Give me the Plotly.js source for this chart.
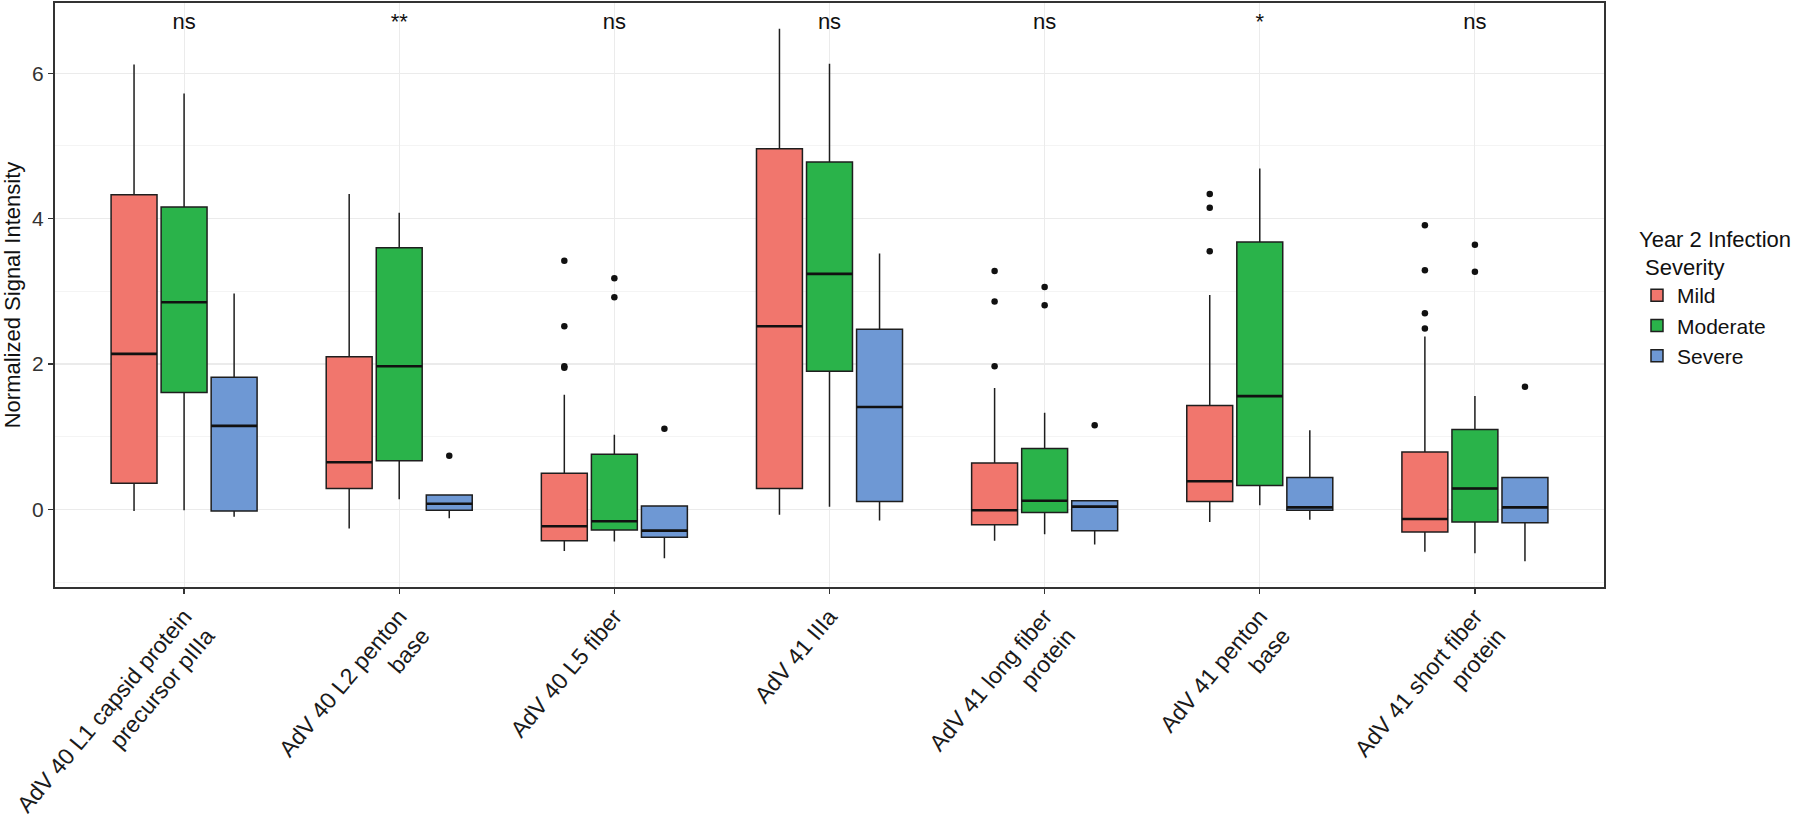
<!DOCTYPE html>
<html>
<head>
<meta charset="utf-8">
<script src="https://cdn.plot.ly/plotly-3.0.1.min.js"></script>
<style>html,body{margin:0;padding:0;background:#fff;}#chart{width:1800px;height:821px;}</style>
</head>
<body>
<div id="chart"></div>
<script>
// ---- categories & labels ----
const categories = [
  "AdV 40 L1 capsid protein<br>precursor pIIIa",
  "AdV 40 L2 penton<br>base",
  "AdV 40 L5 fiber",
  "AdV 41 IIIa",
  "AdV 41 long fiber<br>protein",
  "AdV 41 penton<br>base",
  "AdV 41 short fiber<br>protein"
];
const groups = ["Mild", "Moderate", "Severe"];
const sigLabels = ["ns", "**", "ns", "ns", "ns", "*", "ns"];
const sigY = 6.69;

// ---- Mild ----
const mildUpper  = [6.12, 4.34, 1.58, 6.61, 1.67, 2.95, 2.38];
const mildQ3     = [4.33, 2.10, 0.50, 4.96, 0.64, 1.43, 0.79];
const mildMedian = [2.14, 0.65, -0.23, 2.52, -0.01, 0.39, -0.13];
const mildQ1     = [0.36, 0.29, -0.43, 0.29, -0.21, 0.11, -0.31];
const mildLower  = [-0.02, -0.26, -0.57, -0.07, -0.43, -0.17, -0.58];
const mildOutliers = [[], [], [3.42, 2.52, 1.97, 1.95], [], [3.28, 2.86, 1.97], [4.34, 4.15, 3.55], [3.91, 3.29, 2.70, 2.49]];

// ---- Moderate ----
const modUpper  = [5.72, 4.08, 1.03, 6.13, 1.33, 4.69, 1.56];
const modQ3     = [4.16, 3.60, 0.76, 4.78, 0.84, 3.68, 1.10];
const modMedian = [2.85, 1.97, -0.16, 3.24, 0.12, 1.56, 0.29];
const modQ1     = [1.61, 0.67, -0.28, 1.90, -0.04, 0.33, -0.17];
const modLower  = [-0.01, 0.14, -0.44, 0.04, -0.34, 0.06, -0.60];
const modOutliers = [[], [], [3.18, 2.92], [], [3.06, 2.81], [], [3.64, 3.27]];

// ---- Severe ----
const sevUpper  = [2.97, 0.20, 0.05, 3.52, 0.12, 1.09, 0.44];
const sevQ3     = [1.82, 0.20, 0.05, 2.48, 0.12, 0.44, 0.44];
const sevMedian = [1.15, 0.08, -0.29, 1.41, 0.04, 0.03, 0.03];
const sevQ1     = [-0.02, -0.01, -0.38, 0.11, -0.29, -0.01, -0.18];
const sevLower  = [-0.10, -0.12, -0.67, -0.15, -0.48, -0.14, -0.71];
const sevOutliers = [[], [0.74], [1.11], [], [1.16], [], [1.69]];

// ---- styling ----
const colors = ["#F1766D", "#2AB34A", "#6E98D4"];
const FONT = "Liberation Sans, Arial, Helvetica, sans-serif";
const DODGE = 0.2326;
const BOXW = 0.2135;

const series = [
  {name: groups[0], upper: mildUpper, q3: mildQ3, median: mildMedian, q1: mildQ1, lower: mildLower, out: mildOutliers},
  {name: groups[1], upper: modUpper,  q3: modQ3,  median: modMedian,  q1: modQ1,  lower: modLower,  out: modOutliers},
  {name: groups[2], upper: sevUpper,  q3: sevQ3,  median: sevMedian,  q1: sevQ1,  lower: sevLower,  out: sevOutliers}
];

const pos = categories.map((_, i) => i + 1);
const traces = [];
series.forEach((s, g) => {
  const off = (g - 1) * DODGE;
  const xs = pos.map(p => p + off);
  traces.push({
    type: "box", name: s.name, x: xs,
    q1: s.q1, median: s.median, q3: s.q3,
    lowerfence: s.lower, upperfence: s.upper,
    width: BOXW, whiskerwidth: 0, boxpoints: false,
    fillcolor: colors[g], line: {color: "#1e1e1e", width: 1.5},
    hoverinfo: "skip", showlegend: true
  });
});
// thicker median lines
series.forEach((s, g) => {
  const off = (g - 1) * DODGE;
  const mx = [], my = [];
  pos.forEach((p, i) => {
    mx.push(p + off - BOXW / 2, p + off + BOXW / 2, null);
    my.push(s.median[i], s.median[i], null);
  });
  traces.push({type: "scatter", mode: "lines", x: mx, y: my,
    line: {color: "#111", width: 2.6}, showlegend: false, hoverinfo: "skip"});
});
// outliers
series.forEach((s, g) => {
  const off = (g - 1) * DODGE;
  const ox = [], oy = [];
  s.out.forEach((vals, i) => vals.forEach(v => { ox.push(pos[i] + off); oy.push(v); }));
  traces.push({type: "scatter", mode: "markers", x: ox, y: oy,
    marker: {color: "#111", size: 6.5}, showlegend: false, hoverinfo: "skip"});
});
// significance labels
traces.push({type: "scatter", mode: "text", x: pos, y: pos.map(() => sigY),
  text: sigLabels, textposition: "middle center",
  textfont: {family: FONT, size: 22, color: "#111"},
  showlegend: false, hoverinfo: "skip"});

const layout = {
  width: 1800, height: 821,
  margin: {l: 55, r: 196, t: 3, b: 234},
  paper_bgcolor: "#fff", plot_bgcolor: "#fff",
  font: {family: FONT, color: "#222"},
  boxmode: "overlay",
  showlegend: true,
  xaxis: {
    range: [0.4, 7.6], tickmode: "array", tickvals: pos, ticktext: categories,
    tickangle: -50, tickfont: {family: FONT, size: 23, color: "#1a1a1a"},
    showgrid: true, gridcolor: "#EBEBEB", gridwidth: 1,
    ticks: "outside", ticklen: 5, tickcolor: "#333", tickwidth: 1.2,
    showline: true, mirror: true, linecolor: "#333", linewidth: 2, zeroline: false
  },
  yaxis: {
    range: [-1.065, 6.965], tickmode: "array", tickvals: [0, 2, 4, 6],
    tickfont: {family: FONT, size: 21, color: "#333"},
    showgrid: true, gridcolor: "#EBEBEB", gridwidth: 1.2,
    minor: {tickmode: "array", tickvals: [-1, 1, 3, 5], showgrid: true, gridcolor: "#F4F4F4", gridwidth: 1, ticks: ""},
    ticks: "outside", ticklen: 5, tickcolor: "#333", tickwidth: 1.2,
    showline: true, mirror: true, linecolor: "#333", linewidth: 2, zeroline: false,
    title: {text: "Normalized Signal Intensity", font: {family: FONT, size: 22, color: "#111"}, standoff: 6}
  },
  legend: {
    x: 1.0213, y: 0.632, xanchor: "left", yanchor: "top",
    bgcolor: "rgba(0,0,0,0)", borderwidth: 0,
    font: {family: FONT, size: 21, color: "#111"},
    title: {text: "Year 2 Infection<br>\u00a0Severity", font: {family: FONT, size: 22, color: "#111"}},
    traceorder: "normal", itemclick: false
  }
};

Plotly.newPlot("chart", traces, layout, {displayModeBar: false, staticPlot: true});
</script>
</body>
</html>
